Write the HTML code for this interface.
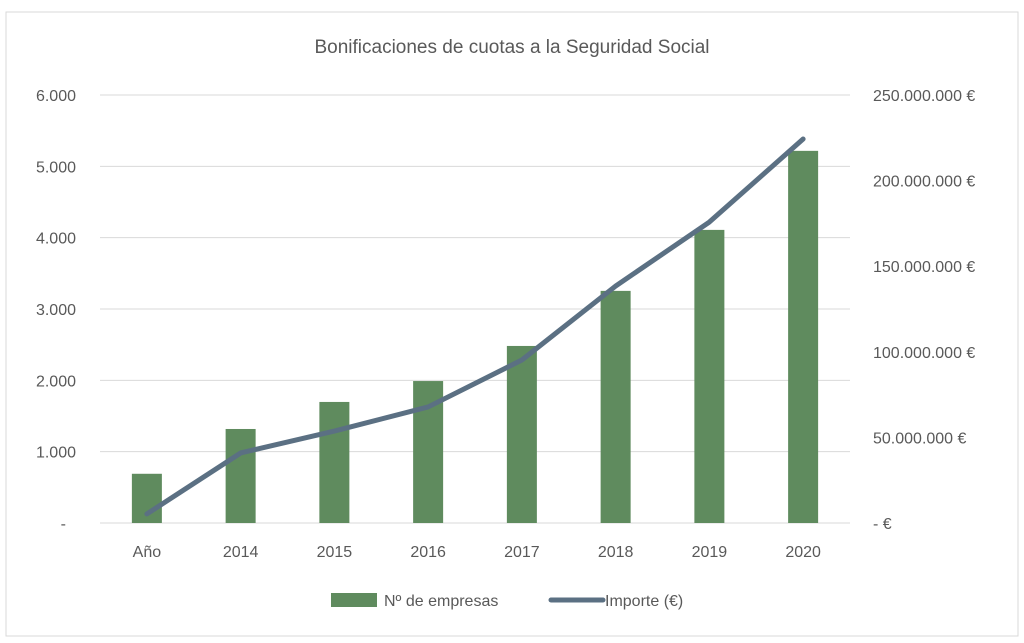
<!DOCTYPE html>
<html><head><meta charset="utf-8"><style>
body{margin:0;background:#fff;}
svg{display:block;font-family:"Liberation Sans",sans-serif;}
</style></head><body>
<svg id="chart" width="1024" height="643" viewBox="0 0 1024 643">
<rect x="6" y="12" width="1012" height="624" fill="#fff" stroke="#d9d9d9"/>
<text x="512" y="53" text-anchor="middle" font-size="19" fill="#595959">Bonificaciones de cuotas a la Seguridad Social</text>
<g id="grid"></g><g id="bars"></g><g id="line"></g><g id="axes"></g>
<g>
<rect x="331" y="593" width="46" height="14" fill="#5f8b5e"/>
<text x="384" y="606" font-size="16" fill="#595959">Nº de empresas</text>
<line x1="551" y1="600" x2="603" y2="600" stroke="#5b7083" stroke-width="5" stroke-linecap="round"/>
<text x="605" y="606" font-size="16" fill="#595959">Importe (€)</text>
</g>
</svg>
<script>
const categories=["Año","2014","2015","2016","2017","2018","2019","2020"];
const empresas=[690,1318,1697,1990,2482,3254,4109,5217];
const importe=[5300000,40900000,53700000,67800000,95200000,138400000,175800000,224300000];
const leftTicks=[0,1000,2000,3000,4000,5000,6000];
const leftTickLabels=["-","1.000","2.000","3.000","4.000","5.000","6.000"];
const rightTicks=[0,50000000,100000000,150000000,200000000,250000000];
const rightTickLabels=["-  €","50.000.000 €","100.000.000 €","150.000.000 €","200.000.000 €","250.000.000 €"];
const NS="http://www.w3.org/2000/svg";
const L=100,R=850,T=95,B=523;
const yL=v=>B-(v/6000)*(B-T);
const yR=v=>B-(v/250000000)*(B-T);
const bw=(R-L)/categories.length;
const xC=i=>L+bw*(i+0.5);
function mk(tag,attrs,parent,txt){const e=document.createElementNS(NS,tag);for(const k in attrs)e.setAttribute(k,attrs[k]);if(txt!==undefined)e.textContent=txt;document.getElementById(parent).appendChild(e);return e;}
leftTicks.forEach((t,i)=>{
 const g=mk("line",{x1:L,x2:R,y1:yL(t),y2:yL(t),stroke:"#d9d9d9","stroke-width":1},"grid");
 
 
 const tx=mk("text",{x:i===0?66:76,y:yL(t)+6,"text-anchor":"end","font-size":16,fill:"#595959"},"axes",leftTickLabels[i]);
 
 
});
rightTicks.forEach((t,i)=>{
 const tx=mk("text",{x:873,y:yR(t)+6,"font-size":16,fill:"#595959","xml:space":"preserve"},"axes",rightTickLabels[i]);
 
 
});
categories.forEach((c,i)=>{
 const b=mk("rect",{x:xC(i)-15,y:yL(empresas[i]),width:30,height:B-yL(empresas[i]),fill:"#5f8b5e"},"bars");
 
 
 const tx=mk("text",{x:xC(i),y:557,"text-anchor":"middle","font-size":16,fill:"#595959"},"axes",c);
 
 
});
const pts=importe.map((v,i)=>xC(i)+","+yR(v)).join(" ");
const pl=mk("polyline",{points:pts,fill:"none",stroke:"#5b7083","stroke-width":5,"stroke-linejoin":"round","stroke-linecap":"round"},"line");


</script>
</body></html>
